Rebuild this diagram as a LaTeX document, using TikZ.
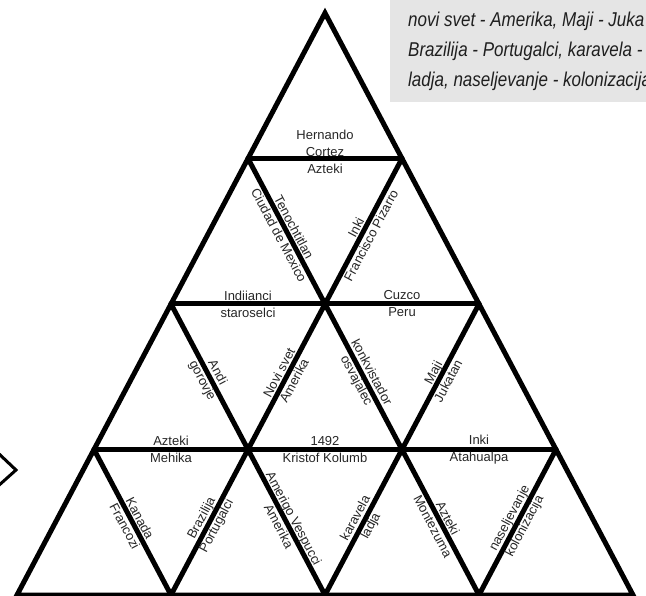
\documentclass[tikz,border=0pt]{standalone}
\usepackage{fontspec}
\newfontfamily\lblfont{Liberation Sans}
\newfontfamily\notefont{Liberation Sans}[FakeStretch=0.85]
\usepackage{tikz}

\begin{document}
\begin{tikzpicture}[x=1pt, y=-1pt,
  edge/.style={line width=5pt, line cap=round},
  lbl/.style={sloped, align=center, inner sep=0pt, text=black!85,
              font=\lblfont\fontsize{13}{17}\selectfont},
  note/.style={align=left, inner sep=0pt, text=black!88,
               font=\notefont\itshape\fontsize{20}{30}\selectfont}
]
\useasboundingbox (0,0) rectangle (646,596);

\coordinate (p-0-0) at (325,13);
\coordinate (p-1-0) at (248,158.5);
\coordinate (p-1-1) at (402,158.5);
\coordinate (p-2-0) at (171,304);
\coordinate (p-2-1) at (325,304);
\coordinate (p-2-2) at (479,304);
\coordinate (p-3-0) at (94,449.5);
\coordinate (p-3-1) at (248,449.5);
\coordinate (p-3-2) at (402,449.5);
\coordinate (p-3-3) at (556,449.5);
\coordinate (p-4-0) at (17,595);
\coordinate (p-4-1) at (171,595);
\coordinate (p-4-2) at (325,595);
\coordinate (p-4-3) at (479,595);
\coordinate (p-4-4) at (633,595);

\fill[black!10] (390,0) rectangle (646,102);
\node[note, anchor=north west] (note) at (408,12)
  {novi svet - Amerika, Maji - Juka\\
   Brazilija - Portugalci, karavela -\\
   ladja, naseljevanje - kolonizacija};

\draw[line width=3pt] (-3,452) -- (16,470) -- (-3,487);

\draw[edge, line join=miter] (p-0-0) -- (p-4-0) -- (p-4-4) -- cycle;
\draw[edge] (p-1-0) -- (p-1-1);
\draw[edge] (p-2-0) -- (p-2-2);
\draw[edge] (p-3-0) -- (p-3-3);
\draw[edge] (p-1-0) -- (p-4-3);
\draw[edge] (p-2-0) -- (p-4-2);
\draw[edge] (p-3-0) -- (p-4-1);
\draw[edge] (p-1-1) -- (p-4-1);
\draw[edge] (p-2-2) -- (p-4-2);
\draw[edge] (p-3-3) -- (p-4-3);

\path (p-1-0) -- node[lbl, yshift=7pt] (hernando) {Hernando\\Cortez\\Azteki} (p-1-1);
\path (p-2-0) -- node[lbl] (indiianci) {Indiianci\\staroselci} (p-2-1);
\path (p-2-1) -- node[lbl] (cuzco) {Cuzco\\Peru} (p-2-2);
\path (p-3-0) -- node[lbl] (mehika) {Azteki\\Mehika} (p-3-1);
\path (p-3-1) -- node[lbl] (kolumb) {1492\\Kristof Kolumb} (p-3-2);
\path (p-3-2) -- node[lbl] (atahualpa) {Inki\\Atahualpa} (p-3-3);

\path (p-1-0) -- node[lbl] (tenochtitlan) {Tenochtitlan\\Ciudad de Mexico} (p-2-1);
\path (p-2-0) -- node[lbl] (andi) {Andi\\gorovje} (p-3-1);
\path (p-2-1) -- node[lbl] (konkvistador) {konkvistador\\osvajalec} (p-3-2);
\path (p-3-0) -- node[lbl] (kanada) {Kanada\\Francozi} (p-4-1);
\path (p-3-1) -- node[lbl] (vespucci) {Amerigo Vespucci\\Amerika} (p-4-2);
\path (p-3-2) -- node[lbl] (montezuma) {Azteki\\Montezuma} (p-4-3);

\path (p-2-1) -- node[lbl] (pizarro) {Inki\\Francisco Pizarro} (p-1-1);
\path (p-3-1) -- node[lbl] (novisvet) {Novi svet\\Amerika} (p-2-1);
\path (p-3-2) -- node[lbl] (maji) {Maji\\Jukatan} (p-2-2);
\path (p-4-1) -- node[lbl] (brazilija) {Brazilija\\Portugalci} (p-3-1);
\path (p-4-2) -- node[lbl] (karavela) {karavela\\ladja} (p-3-2);
\path (p-4-3) -- node[lbl] (naseljevanje) {naseljevanje\\kolonizacija} (p-3-3);
\end{tikzpicture}
\end{document}
